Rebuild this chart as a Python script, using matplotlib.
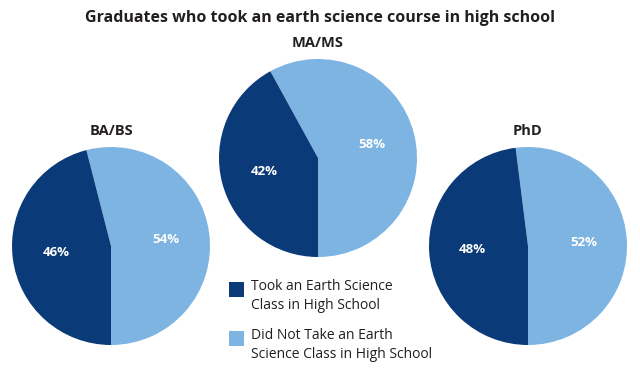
import matplotlib
matplotlib.use("Agg")
import matplotlib.pyplot as plt
from matplotlib.patches import Rectangle

plt.rcParams['font.family'] = ['Open Sans', 'DejaVu Sans']

title = "Graduates who took an earth science course in high school"
degrees = ["BA/BS", "MA/MS", "PhD"]
took = [46, 42, 48]
did_not = [54, 58, 52]
legend_labels = ["Took an Earth Science\nClass in High School",
                 "Did Not Take an Earth\nScience Class in High School"]

dark = "#0b3a78"
light = "#7db4e2"
txt = "#231f20"

W, H = 640, 368
fig = plt.figure(figsize=(6.4, 3.68), dpi=100)
ax = fig.add_axes([0, 0, 1, 1])
ax.set_xlim(0, W)
ax.set_ylim(0, H)
ax.set_aspect('equal')
ax.axis('off')

centers = [(111, 246), (318, 158), (528, 246)]
R = 99
for name, t, d, (cx, cy) in zip(degrees, took, did_not, centers):
    y = H - cy
    wedges, _, autotexts = ax.pie([d, t], colors=[light, dark], startangle=-90,
                                  counterclock=True, center=(cx, y), radius=R,
                                  autopct='%d%%', pctdistance=0.56,
                                  wedgeprops=dict(linewidth=0),
                                  textprops=dict(color='white', fontsize=9.5,
                                                 fontweight='bold'))
    ax.text(cx, y + R + 16, name, ha='center', va='center', fontsize=10.5,
            fontweight='bold', color=txt)

ax.set_xlim(0, W)
ax.set_ylim(0, H)

fig.text(0.5, 1 - 18 / H, title, ha='center', va='center', fontsize=11.5,
         fontweight='bold', color=txt)

# legend
for i, (lab, col) in enumerate(zip(legend_labels, [dark, light])):
    top = 282 + i * 49
    ax.add_patch(Rectangle((229, H - top - 15), 15, 15, facecolor=col, edgecolor='none'))
    ax.text(251, H - top - 14, lab, ha='left', va='center', fontsize=10,
            color=txt, linespacing=1.45)

fig.savefig("out.png", dpi=100)
